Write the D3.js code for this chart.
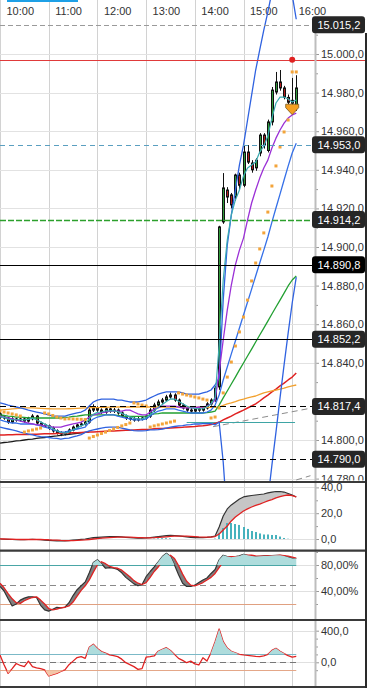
<!DOCTYPE html>
<html><head><meta charset="utf-8">
<script src="https://cdn.jsdelivr.net/npm/d3@7/dist/d3.min.js"></script>
<style>
html,body{margin:0;padding:0;background:#fff;overflow:hidden}
svg{display:block;font-family:"Liberation Sans",Arial,Helvetica,sans-serif}
</style></head><body>
<svg id="chart" width="367" height="688"></svg>
<script>
// ---------------- DATA ----------------
const hourLabels = ["10:00","11:00","12:00","13:00","14:00","15:00","16:00"];
const hourIndex  = [0,12,24,36,48,60,72];   // 5-minute bar index of each hour

const openP = [14813.5,14811.9,14811.4,14809.3,14810.9,14810.4,14810.9,14809.8,14811.0,14812.4,
 14808.8,14807.8,14807.3,14806.2,14804.7,14803.6,14803.1,14803.6,14805.2,14806.7,
 14807.8,14808.3,14809.3,14815.5,14816.6,14815.5,14814.5,14816.1,14815.0,14815.5,
 14814.0,14812.4,14811.4,14810.9,14810.4,14810.9,14811.4,14812.4,14815.5,14818.1,
 14819.7,14820.7,14822.3,14823.3,14820.7,14818.1,14816.6,14815.5,14815.0,14816.1,
 14815.5,14816.6,14818.7,14820.7,
 14827.5,14913.0,14929.5,14927.0,14925.9,14937.3,14932.0,14949.2,14943.5,14941.0,
 14948.7,14958.0,14950.0,14964.8,14980.3,14985.5,14982.4,14977.5,14976.0,14972.5];
const highP = [14814.5,14812.8,14812.0,14811.8,14811.5,14811.6,14811.5,14812.0,14813.4,14813.0,
 14809.5,14808.5,14808.0,14807.0,14805.5,14804.5,14804.6,14806.0,14807.5,14808.5,
 14809.2,14810.0,14818.0,14818.5,14817.5,14816.4,14817.5,14816.8,14816.6,14816.3,
 14814.8,14813.2,14812.4,14811.8,14812.0,14812.3,14813.4,14816.5,14819.3,14820.9,
 14821.8,14823.4,14824.6,14824.2,14821.5,14818.9,14817.6,14816.8,14817.2,14817.0,
 14817.5,14819.6,14821.6,14828.0,
 14911.0,14938.3,14931.0,14928.0,14938.0,14938.5,14952.8,14952.8,14945.0,14946.0,
 14959.0,14959.0,14966.0,14982.9,14990.7,14991.7,14983.5,14979.0,14987.6,14989.0];
const lowP = [14811.0,14810.5,14808.4,14808.6,14809.5,14809.6,14808.9,14809.0,14810.2,14807.9,
 14806.9,14806.3,14805.3,14803.8,14802.8,14802.0,14802.4,14802.9,14804.5,14805.9,
 14807.0,14807.5,14808.5,14814.5,14814.6,14813.5,14813.6,14814.1,14814.0,14813.1,
 14811.5,14810.4,14810.0,14809.5,14809.6,14810.1,14810.5,14811.5,14814.6,14817.2,
 14818.8,14819.7,14821.4,14819.8,14817.2,14815.8,14814.6,14814.0,14814.2,14814.6,
 14814.7,14815.8,14817.8,14819.8,
 14826.0,14912.0,14922.8,14920.0,14924.0,14930.0,14931.0,14943.0,14938.5,14939.5,
 14947.0,14951.0,14949.0,14963.0,14979.0,14981.0,14976.5,14974.0,14969.4,14970.5];
const closeP = [14811.9,14811.4,14809.3,14810.9,14810.4,14810.9,14809.8,14811.4,14812.4,14808.8,
 14807.8,14807.3,14806.2,14804.7,14803.6,14803.1,14803.6,14805.2,14806.7,14807.8,
 14808.3,14809.3,14815.5,14816.6,14815.5,14814.5,14816.1,14815.0,14815.5,14814.0,
 14812.4,14811.4,14810.9,14810.4,14810.9,14811.4,14812.4,14815.5,14818.1,14819.7,
 14820.7,14822.3,14823.3,14820.7,14818.1,14816.6,14815.5,14815.0,14816.1,14815.5,
 14816.6,14818.7,14820.7,14826.9,
 14910.4,14930.6,14925.9,14921.8,14937.3,14932.0,14949.2,14944.0,14940.0,14945.0,
 14958.0,14953.0,14964.8,14981.3,14985.5,14982.4,14977.7,14975.0,14974.5,14982.4];

const fastMA = [14812.0,14811.7,14810.8,14810.6,14810.5,14810.6,14810.4,14810.7,14811.3,14810.5,
 14809.4,14808.3,14807.2,14806.0,14804.8,14803.9,14803.6,14804.1,14805.2,14806.4,
 14807.3,14808.2,14811.0,14813.3,14814.3,14814.5,14815.1,14815.1,14815.2,14814.7,
 14813.8,14812.9,14812.0,14811.3,14811.0,14811.1,14811.6,14813.2,14815.1,14816.9,
 14818.4,14819.9,14821.3,14821.2,14820.1,14818.8,14817.6,14816.7,14816.4,14816.1,
 14816.2,14817.2,14818.6,14822.0,
 14849.2,14882.9,14903.6,14916.6,14924.4,14929.5,14936.8,14940.9,14942.5,14944.0,
 14949.2,14952.3,14957.5,14966.8,14974.6,14977.7,14977.7,14976.7,14975.1,14976.2];
const midMA = [14812.4,14811.9,14811.4,14810.9,14810.4,14809.8,14809.3,14808.8,14808.3,14807.8,
 14807.8,14807.3,14807.3,14806.7,14806.7,14806.7,14807.3,14807.8,14808.3,14808.8,
 14809.3,14810.4,14811.9,14813.0,14813.5,14814.0,14814.5,14815.0,14815.0,14815.0,
 14815.0,14815.5,14815.5,14814.5,14813.5,14813.0,14813.0,14814.5,14816.1,14816.6,
 14817.6,14817.6,14817.6,14817.6,14817.1,14816.6,14816.6,14816.6,14816.6,14817.1,
 14817.1,14817.6,14818.7,14820.7,
 14835.2,14851.8,14867.3,14880.3,14890.7,14898.4,14904.6,14914.0,14922.8,14929.5,
 14935.7,14940.9,14945.0,14951.3,14956.4,14960.6,14964.2,14966.8,14968.4,14969.4];
const greenMA = [14813.0,14812.7,14812.4,14812.2,14811.9,14811.9,14811.7,14811.4,14811.4,14811.4,
 14811.4,14811.4,14811.4,14811.4,14811.4,14811.4,14811.7,14811.9,14812.2,14812.4,
 14812.7,14813.0,14813.0,14813.0,14813.0,14813.0,14813.0,14813.0,14813.0,14812.7,
 14812.4,14812.2,14812.2,14812.2,14812.2,14812.2,14812.4,14813.0,14813.5,14813.7,
 14814.0,14814.0,14814.0,14814.0,14814.0,14814.0,14814.0,14814.0,14814.0,14814.0,
 14814.0,14814.2,14814.5,14815.0,
 14818.1,14821.8,14825.4,14829.0,14832.6,14836.3,14839.9,14843.5,14847.1,14850.8,
 14854.4,14858.0,14861.6,14865.3,14868.9,14872.5,14876.1,14879.8,14882.9,14885.0];
const redMA = [14802.6,14802.6,14802.7,14802.7,14802.8,14802.8,14802.9,14802.9,14803.0,14803.0,
 14803.1,14803.2,14803.3,14803.3,14803.4,14803.5,14803.6,14803.6,14803.7,14803.8,
 14803.9,14804.0,14804.1,14804.2,14804.3,14804.4,14804.5,14804.6,14804.7,14804.8,
 14804.9,14805.0,14805.1,14805.2,14805.3,14805.4,14805.5,14805.6,14805.8,14805.9,
 14806.0,14806.1,14806.2,14806.4,14806.5,14806.6,14806.8,14806.9,14807.0,14807.2,
 14807.4,14807.7,14808.0,14808.5,
 14809.3,14810.4,14811.4,14812.4,14813.5,14814.5,14815.5,14816.6,14817.6,14818.7,
 14820.2,14821.8,14823.3,14824.9,14826.4,14828.0,14829.5,14831.1,14832.6,14834.7];
const orangeMA = [14815.5,14815.7,14815.9,14816.1,14816.3,14816.5,14816.6,14816.6,14816.6,14816.5,
 14816.4,14816.3,14816.2,14816.1,14816.1,14816.1,14816.1,14816.2,14816.3,14816.4,
 14816.5,14816.6,14816.7,14816.8,14816.8,14816.9,14816.9,14817.0,14817.0,14817.1,
 14817.1,14817.1,14817.1,14817.1,14817.1,14817.1,14817.1,14817.1,14817.1,14817.1,
 14817.1,14817.1,14817.1,14817.1,14817.1,14817.1,14817.1,14817.0,14817.0,14817.0,
 14816.9,14816.9,14816.9,14816.9,
 14817.1,14817.9,14818.7,14819.2,14819.9,14820.7,14821.2,14821.8,14822.3,14822.8,
 14823.6,14824.4,14824.9,14825.4,14825.9,14826.4,14826.9,14827.5,14828.0,14828.5];
const blackMA = [14798.4,14798.7,14798.9,14799.2,14799.5,14799.7,14800.0,14800.3,14800.5,14800.8,
 14801.1,14801.3,14801.6,14801.9,14802.1,14802.4,14802.7,14802.9,14803.2,14803.5,
 14803.7,14804.0,14804.2];
const bandUpper = [14819.2,14818.7,14818.1,14817.6,14817.1,14816.6,14816.1,14815.5,14815.0,14814.5,
 14814.0,14813.5,14813.0,14812.4,14812.4,14812.4,14812.4,14813.0,14813.5,14814.0,
 14814.5,14815.5,14817.6,14819.7,14820.7,14821.2,14821.2,14821.2,14821.2,14820.7,
 14820.7,14820.2,14819.7,14819.7,14819.7,14820.2,14820.7,14821.8,14822.8,14823.8,
 14824.4,14824.9,14824.9,14824.9,14824.9,14824.4,14823.8,14823.8,14823.8,14823.8,
 14824.4,14824.9,14825.9,14828.5,
 14832.1,14872.5,14901.0,14916.6,14929.5,14942.5,14952.8,14965.8,14978.7,14991.7,
 15002.1,15012.4,15021.7,15032.1,15038.3,15042.5,15043.5,15040.9,15030.6,15018.0];
const bandLower = [14806.7,14806.2,14805.7,14805.2,14804.7,14804.1,14803.6,14803.1,14802.6,14802.1,
 14801.8,14801.6,14801.3,14801.0,14800.8,14800.5,14800.8,14801.0,14801.6,14802.1,
 14802.8,14803.9,14804.7,14805.2,14805.7,14806.2,14806.5,14806.7,14806.7,14806.7,
 14806.2,14805.7,14805.2,14804.9,14804.7,14804.7,14804.9,14805.2,14805.2,14805.4,
 14805.7,14806.2,14806.7,14807.0,14807.3,14807.5,14807.8,14808.0,14808.3,14808.3,
 14808.5,14808.5,14808.5,14807.8,
 14809.3,14788.6,14758.6,14737.8,14722.3,14711.9,14706.8,14706.8,14709.3,14717.1,
 14727.5,14743.0,14768.9,14787.0,14804.1,14821.8,14838.9,14855.4,14871.0,14884.4];
const bandInner = [14810.4,14809.8,14809.3,14808.8,14808.8,14808.3,14808.3,14808.3,14808.3,14807.8,
 14807.3,14806.7,14806.2,14805.2,14804.7,14804.1,14804.1,14804.7,14805.2,14805.7,
 14806.2,14806.7,14809.3,14810.9,14811.9,14812.4,14813.0,14813.0,14813.0,14812.4,
 14811.9,14811.4,14810.9,14810.4,14810.4,14810.4,14810.9,14812.4,14814.0,14815.0,
 14815.5,14816.1,14816.1,14816.1,14815.5,14815.0,14814.5,14814.0,14814.0,14814.0,
 14814.0,14814.5,14815.5,14818.1,
 14823.3,14831.1,14837.8,14844.6,14851.3,14858.0,14864.8,14871.5,14878.2,14885.0,
 14891.7,14898.4,14905.2,14912.9,14920.2,14927.4,14934.7,14941.9,14948.7,14953.8];
const sar = [14815.0,14814.5,14814.0,14813.5,14813.0,14812.4,
 14804.1,14804.7,14805.2,14805.7,14806.2,
 14814.0,14813.5,14812.7,14811.9,14811.4,14810.9,14811.0,14810.9,14810.8,14810.7,14810.6,
 14801.0,14801.8,14802.6,14803.4,14804.1,14804.9,14805.7,14806.5,14807.3,14808.0,14808.8,
 14819.2,14818.7,14818.1,14817.6,
 14806.7,14807.3,14807.8,14808.3,14808.8,14809.3,14809.8,
 14824.4,14823.8,14823.3,14822.8,14822.3,14821.8,14821.2,14820.7,
 14811.4,14811.9,
 14816.6,14824.4,14832.6,14840.4,14848.7,14856.0,14863.7,14872.5,14882.4,14891.7,
 14899.0,14907.3,14918.1,14931.6,14942.0,14951.8,14959.6,14965.8,14990.7,14990.7];

const macdLine = [0,-0.2,-0.3,-0.4,-0.5,-0.5,-0.5,-0.4,-0.3,-0.4,
 -0.6,-0.8,-1.0,-1.2,-1.4,-1.5,-1.4,-1.2,-0.9,-0.6,
 -0.3,0.0,0.6,1.0,1.3,1.5,1.7,1.8,1.9,1.8,
 1.6,1.3,1.0,0.8,0.6,0.6,0.8,1.1,1.5,1.9,
 2.3,2.6,2.8,2.7,2.4,2.0,1.6,1.3,1.1,1.0,
 1.1,1.3,1.6,
 2.3,9.3,17.8,23.3,26.4,28.7,31.0,32.6,33.3,33.7,34.1,34.5,34.9,35.7,36.4,36.8,36.8,36.4,35.3,34.1,32.6];
const macdSignal = [0.1,0.0,-0.1,-0.2,-0.3,-0.4,-0.4,-0.4,-0.4,-0.4,
 -0.4,-0.5,-0.6,-0.8,-0.9,-1.1,-1.2,-1.2,-1.2,-1.1,
 -0.9,-0.7,-0.4,0.0,0.3,0.6,0.9,1.1,1.3,1.4,
 1.5,1.5,1.4,1.3,1.1,1.0,0.9,0.9,1.0,1.2,
 1.4,1.7,2.0,2.2,2.3,2.3,2.2,2.0,1.8,1.6,
 1.5,1.4,1.5,
 1.9,3.9,7.0,10.1,14.0,17.1,19.4,21.7,23.3,24.8,26.0,27.1,28.3,29.5,30.6,31.8,32.9,33.7,34.1,33.7,32.6];
const macdHist = [0,0,0,0,0,0,0,0,0,0,
 0,0,0,0,0,0,0,0,0,0,
 0,0,0.6,0.8,0.6,0.4,0,0,0,0,
 0,0,0,0,0,0,0,0,0.3,0.5,
 0.6,0.6,0.5,0,0,0,0,0,0,0,
 0,0,0,0.3,
 4.7,8.5,12.4,12.4,11.6,10.9,9.3,7.8,6.2,5.4,4.3,3.5,3.5,3.1,3.1,1.9,0.8,0.2,0,0];

const stochK = [47,40,28,17,20,26,29,31,31,30,
 18,11,9,12,15,14,15,22,33,42,
 48,54,68,84,88,82,75,76,75,73,
 68,61,56,51,48,50,62,70,77,85,
 93,98,93,80,65,52,47,47,49,53,
 57,60,67,73,88,95,93,92,93,94,
 96.5,95,94,93,93.5,94,94,94.5,95,95,
 94,92,90,90];
const stochD = [52,45,36,28,22,21,25,28,30,31,
 26,20,13,11,12,14,15,17,23,32,
 41,48,57,69,80,85,82,78,76,75,
 72,67,62,56,52,50,53,61,70,77,
 85,92,95,90,79,66,55,49,48,50,
 53,57,61,67,76,85,92,93,93,93,
 94.5,95,95,94,93.5,93.5,94,94,94.5,95,
 94.5,93.5,92,90.5];
const cci = [92,-30,-140,-80,-15,-40,-55,15,-55,-70,
 -80,-95,-173,-155,-140,-115,-97,-30,15,60,
 71,50,190,228,175,135,115,95,85,72,
 40,-5,-30,-55,-90,-80,65,71,80,140,
 165,185,150,100,50,25,-5,15,-20,-34,
 58,16,120,260,421,261,180,140,120,101,
 95,88,82,75,71,80,100,150,177,140,
 110,84,65,75];

const priceTicks = [14780,14800,14840,14860,14880,14900,14920,14940,14960,14980,15000];
const priceMinor = [14790,14810,14820,14830,14850,14870,14890,14910,14930,14950,14970,14990,15010];
const levelValues = [15015.2,14997.0,14953.0,14914.2,14890.8,14852.2,14817.4,14790.0];
const boxValues = [15015.2,14953.0,14914.2,14890.8,14852.2,14817.4,14790.0];
const trendA = [[52.5,14806.9],[76.4,14816.4]];
const trendB = [[73.0,14779.3],[76.5,14781.5]];
const supportRange = [46,72.7];
const supportValue = 14809.5;
const signalIndex = 72, signalPrice = 14974.0, alertPrice = 14997.0;
const macdTicks = [0,20,40], macdMinor = [10,30];
const stochTicks = [40,80], stochMinor = [20,60,100], stochLevels = [80,50,20];
const cciTicks = [0,400], cciMinor = [-100,100,200,300], cciLevels = [100,0,-100];

// ---------------- SCALES ----------------
const svg = d3.select("#chart");
const AX = 315, W = 367, H = 688;
const N = closeP.length;
const idx = d3.range(N);
const x = d3.scaleLinear().domain([0,72]).range([0,292.2]);
const yMain  = d3.scaleLinear().domain([14800,15000]).range([440,54]);
const yMacd  = d3.scaleLinear().domain([0,40]).range([539,487.4]);
const yStoch = d3.scaleLinear().domain([40,80]).range([591,565]);
const yCci   = d3.scaleLinear().domain([0,400]).range([662.3,630.7]);
const loc = d3.formatLocale({decimal:",",thousands:".",grouping:[3],currency:["",""]});
const f1 = loc.format(",.1f"), f2 = loc.format(",.2f");
const FONT = "'Liberation Sans',Arial,sans-serif";

const defs = svg.append("defs");
function clip(id,x0,y0,w,h){defs.append("clipPath").attr("id",id).append("rect")
  .attr("x",x0).attr("y",y0).attr("width",w).attr("height",h);return `url(#${id})`;}
const cMain = clip("cMain",0,0,AX,481);
const cMainAx = clip("cMainAx",AX-2,0,W-AX+2,480.5);
const cMacd = clip("cMacd",0,483,AX,66);
const cStoch = clip("cStoch",0,552,AX,67);
const cStochHi = clip("cStochHi",0,552,AX,yStoch(80)-552);
const cCci = clip("cCci",0,621,AX,66);
const cCciHi = clip("cCciHi",0,621,AX,yCci(100)-621);
const cCciLo = clip("cCciLo",0,yCci(-100),AX,687-yCci(-100));

svg.append("rect").attr("width",W).attr("height",H).attr("fill","#fff");
const px = v => Math.round(v)+0.5;

// vertical grid
svg.append("g").selectAll("line").data(hourIndex).join("line")
  .attr("x1",d=>px(x(d))).attr("x2",d=>px(x(d))).attr("y1",0).attr("y2",H)
  .attr("stroke","#d2d2d2");
// header
svg.append("rect").attr("x",7).attr("y",0).attr("width",71).attr("height",2).attr("fill","#1ea0e6");
svg.append("g").selectAll("text").data(hourLabels).join("text")
  .attr("x",(d,i)=>x(hourIndex[i])+6.5).attr("y",15).attr("font-size",11).attr("fill","#333")
  .attr("font-family",FONT).text(d=>d);

// ---------------- MAIN PANE ----------------
const gm = svg.append("g").attr("clip-path",cMain);
gm.selectAll(".hg").data(priceTicks).join("line").attr("class","hg")
  .attr("x1",0).attr("x2",AX).attr("y1",d=>px(yMain(d))).attr("y2",d=>px(yMain(d)))
  .attr("stroke","#e2e2e2");

// horizontal levels
const lvlStyle = [
  {c:"#9a9a9a",d:"5,3",w:1,end:AX},
  {c:"#e03a3a",d:null,w:1,end:W},
  {c:"#5a9fc0",d:"5,4",w:1,end:AX},
  {c:"#2ca02c",d:"6,2",w:1.6,end:AX},
  {c:"#000",d:null,w:1,end:W},
  {c:"#000",d:null,w:1,end:W},
  {c:"#000",d:"6,4",w:1,end:AX},
  {c:"#000",d:"6,4",w:1,end:AX}];
svg.append("g").selectAll("line").data(levelValues).join("line")
  .attr("x1",0).attr("x2",(d,i)=>lvlStyle[i].end)
  .attr("y1",d=>px(yMain(d))).attr("y2",d=>px(yMain(d)))
  .attr("stroke",(d,i)=>lvlStyle[i].c).attr("stroke-width",(d,i)=>lvlStyle[i].w)
  .attr("stroke-dasharray",(d,i)=>lvlStyle[i].d);

// trendlines and support
const tl = d3.line().x(d=>x(d[0])).y(d=>yMain(d[1]));
gm.append("path").attr("d",tl(trendA)).attr("fill","none").attr("stroke","#8c8c8c").attr("stroke-dasharray","6,4");
svg.append("path").attr("d",tl(trendB)).attr("fill","none").attr("stroke","#8c8c8c").attr("stroke-dasharray","6,4").attr("clip-path",cMain);
gm.append("line").attr("x1",x(supportRange[0])).attr("x2",x(supportRange[1]))
  .attr("y1",px(yMain(supportValue))).attr("y2",px(yMain(supportValue))).attr("stroke","#3ea5a5");

// candles
const cg = gm.append("g");
cg.selectAll(".wk").data(idx).join("line").attr("class","wk")
  .attr("x1",i=>px(x(i))).attr("x2",i=>px(x(i)))
  .attr("y1",i=>yMain(highP[i])).attr("y2",i=>yMain(lowP[i])).attr("stroke","#111");
cg.selectAll(".bd").data(idx).join("rect").attr("class","bd")
  .attr("x",i=>Math.round(x(i))-0.5).attr("width",2)
  .attr("y",i=>yMain(Math.max(openP[i],closeP[i])))
  .attr("height",i=>Math.max(1,Math.abs(yMain(openP[i])-yMain(closeP[i]))))
  .attr("fill",i=>closeP[i]>=openP[i]?"#2f9a3a":"#b41e1e").attr("stroke","#111").attr("stroke-width",1);

// indicator lines
const lineOf = s => d3.line().x((d,i)=>x(i)).y(d=>s(d));
function drawLine(g,data,scale,color,w){
  g.append("path").datum(data).attr("d",lineOf(scale)).attr("fill","none")
   .attr("stroke",color).attr("stroke-width",w).attr("stroke-linejoin","round");
}
drawLine(gm,blackMA,yMain,"#1a1a1a",1.3);
drawLine(gm,redMA,yMain,"#e02222",1.5);
drawLine(gm,orangeMA,yMain,"#f2a12e",1.3);
drawLine(gm,greenMA,yMain,"#22a032",1.3);
drawLine(gm,bandLower,yMain,"#2f62e0",1.3);
drawLine(gm,bandUpper,yMain,"#2f62e0",1.3);
drawLine(gm,bandInner,yMain,"#3570e8",1.3);
drawLine(gm,midMA,yMain,"#9b30d6",1.3);
drawLine(gm,fastMA,yMain,"#3aaab0",1.2);

// SAR dots
gm.selectAll(".sar").data(idx).join("rect").attr("class","sar")
  .attr("x",i=>x(i)-1.5).attr("y",i=>yMain(sar[i])-1.5).attr("width",3).attr("height",3)
  .attr("fill","#f3a43a");

// alert dot & signal marker
svg.append("circle").attr("cx",x(signalIndex)).attr("cy",yMain(alertPrice)).attr("r",3).attr("fill","#e02222");
svg.append("path").attr("transform",`translate(${x(signalIndex)},${yMain(signalPrice)})`)
  .attr("d","M-6.5,0 L6.5,0 L6.5,3.5 L0,10.5 L-6.5,3.5 Z")
  .attr("fill","#f5a020").attr("stroke","#7a5a20").attr("stroke-width",0.8);

// main axis
const axG = svg.append("g").attr("clip-path",cMainAx);
axG.append("g").attr("transform",`translate(${AX},0)`)
  .call(d3.axisRight(yMain).tickValues(priceMinor).tickSize(3).tickFormat(""))
  .call(g=>g.select(".domain").remove());
axG.append("g").attr("transform",`translate(${AX},0)`)
  .call(d3.axisRight(yMain).tickValues(priceTicks).tickSize(4).tickPadding(2).tickFormat(f1))
  .call(g=>g.select(".domain").remove());

// ---------------- MACD PANE ----------------
const g1 = svg.append("g").attr("clip-path",cMacd);
g1.selectAll(".hg").data(macdTicks).join("line").attr("x1",0).attr("x2",AX)
  .attr("y1",d=>px(yMacd(d))).attr("y2",d=>px(yMacd(d))).attr("stroke","#e0e0e0");
g1.append("path").datum(idx).attr("fill","#c6c6c6")
  .attr("d",d3.area().x(i=>x(i)).y0(i=>yMacd(macdSignal[i])).y1(i=>yMacd(macdLine[i])));
g1.selectAll(".hb").data(idx.filter(i=>macdHist[i]>0)).join("rect")
  .attr("x",i=>Math.round(x(i))-1).attr("width",2)
  .attr("y",i=>yMacd(macdHist[i])).attr("height",i=>yMacd(0)-yMacd(macdHist[i]))
  .attr("fill","#47b2bd");
drawLine(g1,macdLine,yMacd,"#333",1.2);
drawLine(g1,macdSignal,yMacd,"#e02222",1.3);
svg.append("g").attr("transform",`translate(${AX},0)`)
  .call(d3.axisRight(yMacd).tickValues(macdMinor).tickSize(3).tickFormat(""))
  .call(g=>g.select(".domain").remove());
svg.append("g").attr("transform",`translate(${AX},0)`)
  .call(d3.axisRight(yMacd).tickValues(macdTicks).tickSize(4).tickPadding(2).tickFormat(f1))
  .call(g=>g.select(".domain").remove());

// ---------------- STOCHASTIC PANE ----------------
const g2 = svg.append("g").attr("clip-path",cStoch);
g2.selectAll(".hg").data(stochTicks).join("line").attr("x1",0).attr("x2",AX)
  .attr("y1",d=>px(yStoch(d))).attr("y2",d=>px(yStoch(d))).attr("stroke","#e0e0e0");
svg.append("g").attr("clip-path",cStochHi).append("path").datum(idx).attr("fill","#aedcdc")
  .attr("d",d3.area().x(i=>x(i)).y0(yStoch(80)).y1(i=>yStoch(stochK[i])));
const stLvlColor = ["#4aa6a6","#8a8a8a","#e0a080"];
g2.selectAll(".lv").data(stochLevels).join("line").attr("x1",0).attr("x2",x(N-1))
  .attr("y1",d=>px(yStoch(d))).attr("y2",d=>px(yStoch(d)))
  .attr("stroke",(d,i)=>stLvlColor[i]).attr("stroke-dasharray",(d,i)=>i===1?"6,4":null);
g2.append("path").datum(idx).attr("fill","#808080")
  .attr("d",d3.area().x(i=>x(i)).y0(i=>yStoch(stochD[i])).y1(i=>yStoch(stochK[i])));
drawLine(g2,stochK,yStoch,"#333",1.2);
drawLine(g2,stochD,yStoch,"#e02222",1.3);
svg.append("g").attr("transform",`translate(${AX},0)`)
  .call(d3.axisRight(yStoch).tickValues(stochMinor).tickSize(3).tickFormat(""))
  .call(g=>g.select(".domain").remove());
svg.append("g").attr("transform",`translate(${AX},0)`)
  .call(d3.axisRight(yStoch).tickValues(stochTicks).tickSize(4).tickPadding(2).tickFormat(d=>f2(d)+"%"))
  .call(g=>g.select(".domain").remove());

// ---------------- CCI PANE ----------------
const g3 = svg.append("g").attr("clip-path",cCci);
g3.selectAll(".hg").data(cciTicks).join("line").attr("x1",0).attr("x2",AX)
  .attr("y1",d=>px(yCci(d))).attr("y2",d=>px(yCci(d))).attr("stroke","#e0e0e0");
svg.append("g").attr("clip-path",cCciHi).append("path").datum(idx).attr("fill","#aedcdc")
  .attr("d",d3.area().x(i=>x(i)).y0(yCci(100)).y1(i=>yCci(cci[i])));
svg.append("g").attr("clip-path",cCciLo).append("path").datum(idx).attr("fill","#f3c6a8")
  .attr("d",d3.area().x(i=>x(i)).y0(yCci(-100)).y1(i=>yCci(cci[i])));
const cLvlColor = ["#6aaec0","#777","#e0a080"];
g3.selectAll(".lv").data(cciLevels).join("line").attr("x1",0).attr("x2",x(N-1))
  .attr("y1",d=>px(yCci(d))).attr("y2",d=>px(yCci(d)))
  .attr("stroke",(d,i)=>cLvlColor[i]).attr("stroke-dasharray",(d,i)=>i===1?"6,4":null);
drawLine(g3,cci,yCci,"#e02222",1.3);
svg.append("g").attr("transform",`translate(${AX},0)`)
  .call(d3.axisRight(yCci).tickValues(cciMinor).tickSize(3).tickFormat(""))
  .call(g=>g.select(".domain").remove());
svg.append("g").attr("transform",`translate(${AX},0)`)
  .call(d3.axisRight(yCci).tickValues(cciTicks).tickSize(4).tickPadding(2).tickFormat(f1))
  .call(g=>g.select(".domain").remove());

// axis styling
svg.selectAll(".tick text").attr("font-size",11).attr("fill","#333").attr("font-family",FONT);
svg.selectAll(".tick line").attr("stroke","#999");

// right axis line
svg.append("line").attr("x1",AX+0.5).attr("x2",AX+0.5).attr("y1",20).attr("y2",H)
  .attr("stroke","#bdbdbd").attr("stroke-width",2);

// price boxes
const bx = svg.append("g").selectAll("g").data(boxValues).join("g")
  .attr("transform",d=>`translate(312,${yMain(d)})`);
bx.append("rect").attr("x",0).attr("y",-8.5).attr("width",53).attr("height",17).attr("rx",3)
  .attr("fill",d=>d===14890.8?"#000":"#262626");
bx.append("text").attr("x",5.5).attr("y",0).attr("dy","0.36em").attr("font-size",11)
  .attr("fill","#fff").attr("font-family",FONT).text(d=>f1(d));

// pane separators and borders
[482,550.7,620,687].forEach(yy=>svg.append("line").attr("x1",0).attr("x2",W)
  .attr("y1",yy).attr("y2",yy).attr("stroke","#3a3a3a").attr("stroke-width",2.2));
svg.append("line").attr("x1",366).attr("x2",366).attr("y1",33).attr("y2",H)
  .attr("stroke","#2a2a2a").attr("stroke-width",2);
</script>
</body></html>
